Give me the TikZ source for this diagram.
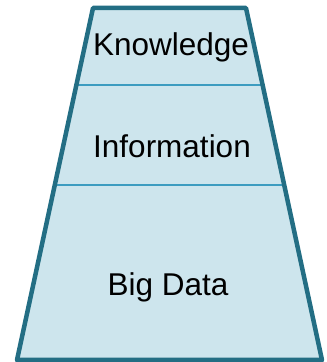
\documentclass[tikz,border=0pt]{standalone}
\usepackage{fontspec}
\setmainfont{Liberation Sans}
\usetikzlibrary{calc}
\definecolor{edgeblue}{HTML}{236E84}
\definecolor{fillblue}{HTML}{CDE5ED}
\definecolor{lineblue}{HTML}{3C9CC0}
\begin{document}
\begin{tikzpicture}[x=1pt,y=1pt]
      \tikzstyle{level}=[font=\fontsize{31.5}{38}\selectfont,anchor=base,inner sep=0pt]
      \tikzstyle{divider}=[lineblue,line width=2pt]
      \useasboundingbox (0,0) rectangle (327,362);

      \coordinate (tl) at (93,354);
      \coordinate (tr) at (246,354);
      \coordinate (br) at (322,2);
      \coordinate (bl) at (17,2);
      \coordinate (k1) at ($(tl)!0.219!(bl)$);
      \coordinate (k2) at ($(tr)!0.219!(br)$);
      \coordinate (i1) at ($(tl)!0.503!(bl)$);
      \coordinate (i2) at ($(tr)!0.503!(br)$);

      \fill[fillblue] (tl) -- (tr) -- (br) -- (bl) -- cycle;
      \draw[divider] (k1) -- (k2);
      \draw[divider] (i1) -- (i2);
      \draw[edgeblue,line width=4.5pt,line join=round] (tl) -- (tr) -- (br) -- (bl) -- cycle;

      \node[level] (knowledge) at (171,306) {Knowledge};
      \node[level] (information) at (172,204) {Information};
      \node[level] (bigdata) at (168,66) {Big Data};
    \end{tikzpicture}
\end{document}
